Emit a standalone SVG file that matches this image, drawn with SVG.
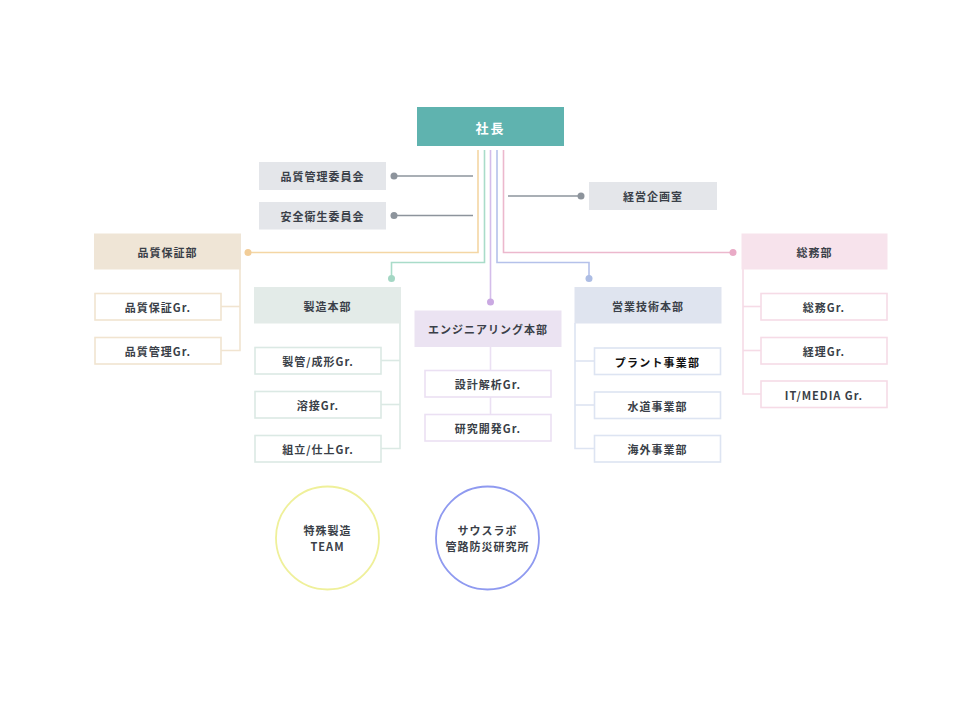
<svg xmlns="http://www.w3.org/2000/svg" width="960" height="720" viewBox="0 0 960 720">
<style>
text{font-family:"Noto Sans CJK JP","Noto Sans",sans-serif;font-weight:bold;font-size:11px;fill:#3a3f48;text-anchor:middle;dominant-baseline:central;letter-spacing:1px}
.w{fill:#ffffff;font-size:13px;letter-spacing:2px}
.sub{fill:#ffffff;stroke-width:1.6}
.ln{fill:none;stroke-width:1.6}
.gray{fill:#e4e6ea}
</style>
<rect width="960" height="720" fill="#ffffff"/>
<g id="connectors">
  <g class="ln" stroke="#8d949c" stroke-width="2">
    <line x1="473" y1="176" x2="394" y2="176"/>
    <line x1="473" y1="215.5" x2="394" y2="215.5"/>
    <line x1="508" y1="196" x2="581" y2="196"/>
  </g>
  <g fill="#8d949c">
    <circle cx="394" cy="176" r="3.5"/>
    <circle cx="394" cy="215.5" r="3.5"/>
    <circle cx="581" cy="196" r="3.5"/>
  </g>
  <polyline class="ln" stroke="#f4d6a4" points="478,150 478,252.5 248,252.5"/>
  <circle cx="248" cy="252.5" r="3.5" fill="#f2cd98"/>
  <polyline class="ln" stroke="#ecb8cd" points="503.5,150 503.5,252.5 733,252.5"/>
  <circle cx="733" cy="252.5" r="3.5" fill="#e9aac6"/>
  <polyline class="ln" stroke="#a9dcc9" points="484.5,150 484.5,262.5 391.5,262.5 391.5,278"/>
  <circle cx="391.5" cy="278.5" r="3.5" fill="#a4d7c4"/>
  <polyline class="ln" stroke="#b5c1ea" points="497,150 497,262.5 589,262.5 589,278"/>
  <circle cx="589" cy="278.5" r="3.5" fill="#adbde4"/>
  <line class="ln" stroke="#d4bdea" x1="490.5" y1="150" x2="490.5" y2="302"/>
  <circle cx="490.5" cy="302" r="3.5" fill="#caa9e2"/>
  <polyline class="ln" stroke="#f1e4d0" points="240,269 240,350.5 221,350.5"/>
  <line class="ln" stroke="#f1e4d0" x1="221" y1="306.5" x2="240" y2="306.5"/>
  <polyline class="ln" stroke="#dbe9e4" points="400,323 400,448.5 381,448.5"/>
  <line class="ln" stroke="#dbe9e4" x1="381" y1="360.5" x2="400" y2="360.5"/>
  <line class="ln" stroke="#dbe9e4" x1="381" y1="404.5" x2="400" y2="404.5"/>
  <line class="ln" stroke="#ebe0f3" x1="490.5" y1="347" x2="490.5" y2="414"/>
  <polyline class="ln" stroke="#dde4f2" points="575,323 575,448.5 594,448.5"/>
  <line class="ln" stroke="#dde4f2" x1="575" y1="361" x2="594" y2="361"/>
  <line class="ln" stroke="#dde4f2" x1="575" y1="405" x2="594" y2="405"/>
  <polyline class="ln" stroke="#f6dbe6" points="743,269 743,394 761,394"/>
  <line class="ln" stroke="#f6dbe6" x1="743" y1="306.5" x2="761" y2="306.5"/>
  <line class="ln" stroke="#f6dbe6" x1="743" y1="350.5" x2="761" y2="350.5"/>
</g>
<g id="president"><rect x="417" y="107" width="147" height="39" fill="#5fb3af"/><text class="w" x="490.5" y="127">社長</text></g>
<g id="qc-committee"><rect class="gray" x="259" y="162" width="127" height="28"/><text x="322.5" y="176">品質管理委員会</text></g>
<g id="safety-committee"><rect class="gray" x="259" y="202" width="127" height="27.5"/><text x="322.5" y="215.5">安全衛生委員会</text></g>
<g id="planning"><rect class="gray" x="589" y="182" width="128" height="28"/><text x="653" y="196">経営企画室</text></g>

<g id="qa-dept"><rect x="94" y="233.5" width="147" height="36" fill="#efe5d6"/><text x="167.5" y="252">品質保証部</text></g>
<g id="qa-gr"><rect class="sub" stroke="#f1e4d0" x="95" y="293.5" width="126" height="26.5"/><text x="158" y="307">品質保証Gr.</text></g>
<g id="qm-gr"><rect class="sub" stroke="#f1e4d0" x="95" y="337.5" width="126" height="26.5"/><text x="158" y="351">品質管理Gr.</text></g>

<g id="mfg-dept"><rect x="254" y="287" width="147" height="36.5" fill="#e3ebe8"/><text x="327.5" y="306">製造本部</text></g>
<g id="pipe-gr"><rect class="sub" stroke="#dbe9e4" x="255" y="347.5" width="126" height="26.5"/><text x="318" y="361">製管/成形Gr.</text></g>
<g id="weld-gr"><rect class="sub" stroke="#dbe9e4" x="255" y="391.5" width="126" height="26.5"/><text x="318" y="405">溶接Gr.</text></g>
<g id="assy-gr"><rect class="sub" stroke="#dbe9e4" x="255" y="435.5" width="126" height="26.5"/><text x="318" y="449">組立/仕上Gr.</text></g>

<g id="eng-dept"><rect x="414.5" y="310.5" width="147" height="36.5" fill="#ebe3f2"/><text x="488" y="329">エンジニアリング本部</text></g>
<g id="design-gr"><rect class="sub" stroke="#ebe0f3" x="425" y="370.5" width="126" height="26.5"/><text x="488" y="384">設計解析Gr.</text></g>
<g id="rd-gr"><rect class="sub" stroke="#ebe0f3" x="425" y="414.5" width="126" height="26.5"/><text x="488" y="428">研究開発Gr.</text></g>

<g id="sales-dept"><rect x="574.5" y="287" width="147" height="36.5" fill="#dfe4ef"/><text x="648" y="306">営業技術本部</text></g>
<g id="plant"><rect class="sub" stroke="#dde4f2" x="594.5" y="348" width="126" height="26.5"/><text x="657.5" y="361.5" style="fill:#111;letter-spacing:1.2px">プラント事業部</text></g>
<g id="water"><rect class="sub" stroke="#dde4f2" x="594.5" y="392" width="126" height="26.5"/><text x="657.5" y="405.5">水道事業部</text></g>
<g id="overseas"><rect class="sub" stroke="#dde4f2" x="594.5" y="435.5" width="126" height="26.5"/><text x="657.5" y="449">海外事業部</text></g>

<g id="ga-dept"><rect x="741.5" y="233.5" width="146" height="36" fill="#f7e3ec"/><text x="814.5" y="252">総務部</text></g>
<g id="ga-gr"><rect class="sub" stroke="#f6dbe6" x="761" y="293.5" width="126" height="26.5"/><text x="824" y="307">総務Gr.</text></g>
<g id="acct-gr"><rect class="sub" stroke="#f6dbe6" x="761" y="337.5" width="126" height="26.5"/><text x="824" y="351">経理Gr.</text></g>
<g id="it-gr"><rect class="sub" stroke="#f6dbe6" x="761" y="381" width="126" height="26.5"/><text x="824" y="394.5">IT/MEDIA Gr.</text></g>

<g id="special-team"><circle cx="327.5" cy="538" r="51.5" fill="#ffffff" stroke="#eff09a" stroke-width="1.8"/><text x="327.5" y="530">特殊製造</text><text x="327.5" y="546">TEAM</text></g>
<g id="south-lab"><circle cx="487.5" cy="538" r="51.5" fill="#ffffff" stroke="#8f9af0" stroke-width="1.8"/><text x="487.5" y="530">サウスラボ</text><text x="487.5" y="546">管路防災研究所</text></g>
</svg>
